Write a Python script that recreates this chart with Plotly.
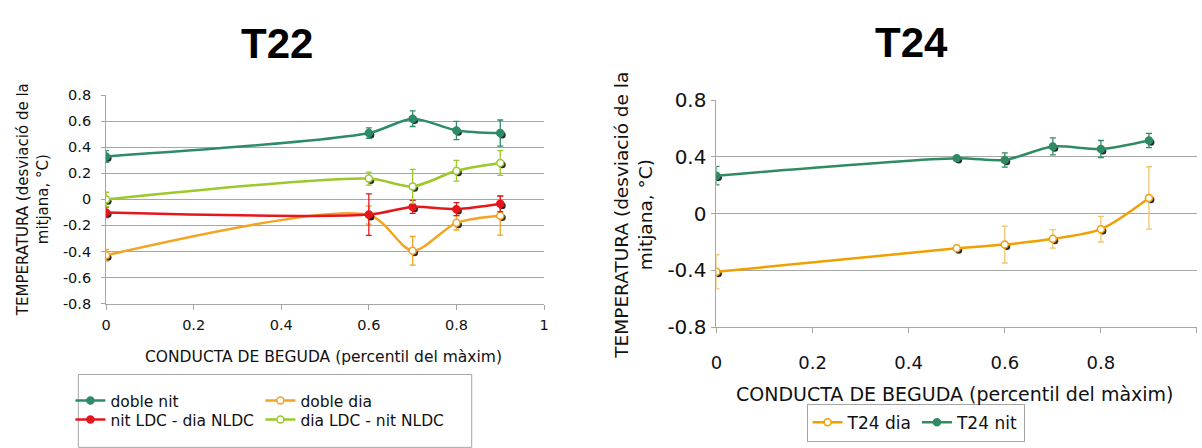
import plotly.graph_objects as go

# ---- T22 data: drinking behaviour percentile vs temperature deviation ----
x_t22 = [0, 0.6, 0.7, 0.8, 0.9]
t22_doble_nit = [0.33, 0.51, 0.62, 0.53, 0.51]
t22_doble_nit_err = [0.045, 0.04, 0.06, 0.07, 0.10]
t22_doble_dia = [-0.43, -0.12, -0.395, -0.18, -0.125]
t22_doble_dia_err = [0.045, 0.07, 0.11, 0.055, 0.15]
t22_nit_ldc = [-0.10, -0.117, -0.058, -0.075, -0.034]
t22_nit_ldc_err = [0.04, 0.16, 0.05, 0.05, 0.06]
t22_dia_ldc = [0.0, 0.16, 0.10, 0.22, 0.28]
t22_dia_ldc_err = [0.055, 0.05, 0.13, 0.08, 0.095]

# ---- T24 data ----
x_t24 = [0, 0.5, 0.6, 0.7, 0.8, 0.9]
t24_nit = [0.267, 0.39, 0.378, 0.473, 0.455, 0.515]
t24_nit_err = [0.065, 0.01, 0.05, 0.06, 0.06, 0.05]
t24_dia = [-0.41, -0.245, -0.218, -0.178, -0.11, 0.11]
t24_dia_err = [0.12, 0.0, 0.13, 0.065, 0.09, 0.22]

x_ticks = [0, 0.2, 0.4, 0.6, 0.8, 1]
y_ticks_t22 = [-0.8, -0.6, -0.4, -0.2, 0, 0.2, 0.4, 0.6, 0.8]
y_ticks_t24 = [-0.8, -0.4, 0, 0.4, 0.8]

W, H = 1202, 448
FONT = "DejaVu Sans"
GRID = "#A6A6A6"
TXT = "#111"

GREEN = "#2E8B68"
ORANGE = "#F2A422"
RED = "#E5161C"
LIME = "#9CC82A"


def px_x(p):
    return p / W


def px_y(p):
    return 1 - p / H


fig = go.Figure()


def add_series(x, y, err, name, color, open_marker, xa, ya, legend, dx, dy,
               err_color=None, size=7):
    # drop shadow under the markers
    fig.add_trace(go.Scatter(
        x=[v + dx for v in x], y=[v + dy for v in y], mode="markers",
        marker=dict(color="rgba(20,20,20,0.9)", size=size),
        xaxis=xa, yaxis=ya, showlegend=False, hoverinfo="skip"))
    fig.add_trace(go.Scatter(
        x=x, y=y, name=name, mode="lines+markers",
        line=dict(color=color, width=2.5, shape="spline", smoothing=0.8),
        marker=dict(color="white" if open_marker else color, size=size,
                    line=dict(color=color, width=1.5)),
        error_y=dict(type="data", array=err, visible=True,
                     color=err_color or color, thickness=1.3, width=3),
        xaxis=xa, yaxis=ya, legend=legend))


# T22 panel: 1 px ~ 1/442 x-units, 1/137.5 y-units
dx1, dy1 = 2 / 442, -2 / 137.5
add_series(x_t22, t22_doble_nit, t22_doble_nit_err, "doble nit", GREEN, False,
           "x", "y", "legend", dx1, dy1)
add_series(x_t22, t22_doble_dia, t22_doble_dia_err, "doble dia", ORANGE, True,
           "x", "y", "legend", dx1, dy1)
add_series(x_t22, t22_nit_ldc, t22_nit_ldc_err, "nit LDC - dia NLDC", RED, False,
           "x", "y", "legend2", dx1, dy1)
add_series(x_t22, t22_dia_ldc, t22_dia_ldc_err, "dia LDC - nit NLDC", LIME, True,
           "x", "y", "legend2", dx1, dy1)

# T24 panel: 1 px ~ 1/485 x-units, 1/150 y-units
dx2, dy2 = 2 / 485, -2 / 150
add_series(x_t24, t24_dia, t24_dia_err, "T24 dia", "#F0A000", True,
           "x2", "y2", "legend3", dx2, dy2, err_color="#F3C46A")
add_series(x_t24, t24_nit, t24_nit_err, "T24 nit", "#2E8B62", False,
           "x2", "y2", "legend3", dx2, dy2)


def xaxis_cfg(domain, anchor, size, standoff):
    return dict(domain=domain, anchor=anchor, range=[0, 1], tickvals=x_ticks,
                ticktext=[f"{v:g}" for v in x_ticks], showgrid=False,
                zeroline=False, showline=True, linecolor=GRID, linewidth=1,
                ticks="outside", ticklen=5, tickcolor=GRID,
                ticklabelstandoff=standoff,
                tickfont=dict(family=FONT, size=size, color=TXT))


def yaxis_cfg(domain, anchor, ticks, size, standoff):
    return dict(domain=domain, anchor=anchor, range=[-0.8, 0.8], tickvals=ticks,
                ticktext=[f"{v:g}" for v in ticks], showgrid=True,
                gridcolor=GRID, gridwidth=1, zeroline=False, showline=True,
                linecolor=GRID, linewidth=1, ticks="outside", ticklen=4,
                tickcolor=GRID, ticklabelstandoff=standoff,
                tickfont=dict(family=FONT, size=size, color=TXT))


fig.update_layout(
    width=W, height=H, margin=dict(l=0, r=0, t=0, b=0),
    paper_bgcolor="white", plot_bgcolor="white",
    xaxis=xaxis_cfg([px_x(101), px_x(543)], "y", 14.5, 3),
    yaxis=yaxis_cfg([px_y(308), px_y(88)], "x", y_ticks_t22, 14.5, 7),
    xaxis2=xaxis_cfg([px_x(717), 1.0], "y2", 18, 14),
    yaxis2=yaxis_cfg([px_y(333), px_y(93)], "x2", y_ticks_t24, 20, 1),
    legend=dict(orientation="h", x=px_x(65), xanchor="left", y=px_y(411),
                yanchor="middle", entrywidth=145, bgcolor="rgba(0,0,0,0)",
                font=dict(family=FONT, size=15.5, color=TXT), itemwidth=30),
    legend2=dict(orientation="h", x=px_x(65), xanchor="left", y=px_y(431),
                 yanchor="middle", entrywidth=145, bgcolor="rgba(0,0,0,0)",
                 font=dict(family=FONT, size=15.5, color=TXT), itemwidth=30),
    legend3=dict(orientation="h", x=px_x(918), xanchor="center", y=px_y(434),
                 yanchor="middle", bgcolor="white", bordercolor=GRID,
                 borderwidth=1, font=dict(family=FONT, size=17, color=TXT),
                 itemwidth=30),
    showlegend=True,
)

# legend frame for the T22 panel (two legend rows share one box)
fig.add_shape(type="rect", xref="paper", yref="paper",
              x0=px_x(73), x1=px_x(470), y0=px_y(460), y1=px_y(383),
              line=dict(color=GRID, width=1), fillcolor="rgba(0,0,0,0)",
              layer="below")

ytitle = "TEMPERATURA (desviació de la<br>mitjana, °C)"
xtitle = "CONDUCTA DE BEGUDA (percentil del màxim)"
annotations = [
    dict(text="<b>T22</b>", x=px_x(273), y=px_y(33), font=dict(
        family="Liberation Sans", size=42, color="#000")),
    dict(text="<b>T24</b>", x=px_x(914), y=px_y(32), font=dict(
        family="Liberation Sans", size=42, color="#000")),
    dict(text=ytitle, x=px_x(28), y=px_y(198), textangle=-90,
         font=dict(family=FONT, size=15, color=TXT)),
    dict(text=ytitle, x=px_x(633), y=px_y(215), textangle=-90,
         font=dict(family=FONT, size=18.5, color=TXT)),
    dict(text=xtitle, x=px_x(320), y=px_y(364),
         font=dict(family=FONT, size=15.5, color=TXT)),
    dict(text=xtitle, x=px_x(958), y=px_y(404),
         font=dict(family=FONT, size=19, color=TXT)),
]
for a in annotations:
    fig.add_annotation(xref="paper", yref="paper", showarrow=False,
                       xanchor="center", yanchor="middle", **a)

fig.write_html("out.html")
